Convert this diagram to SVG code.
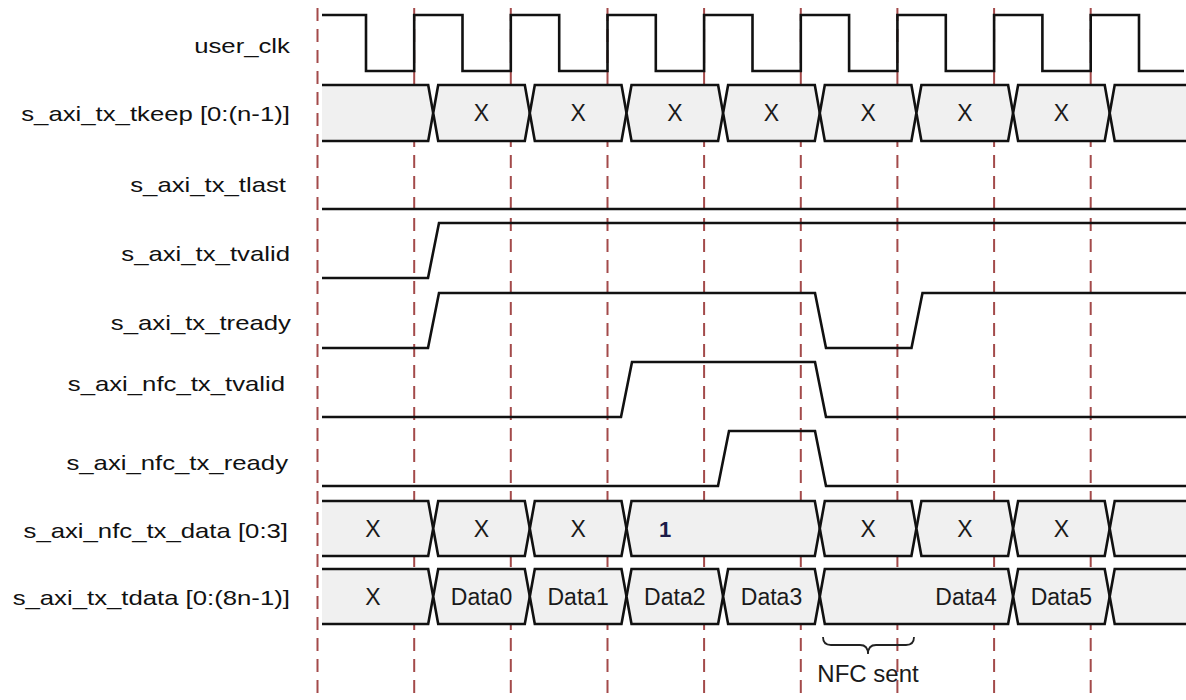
<svg xmlns="http://www.w3.org/2000/svg" width="1186" height="700" viewBox="0 0 1186 700">
<style>
.bg{fill:#ffffff}
.grid line{stroke:#a34a4a;stroke-width:2;stroke-dasharray:13 8}
.sig{fill:none;stroke:#111;stroke-width:2.6;stroke-linejoin:miter}
.busfill{fill:#f0f0f0;stroke:none}
.bus{fill:#f0f0f0;stroke:#111;stroke-width:2.6;stroke-linejoin:miter}
.busline{fill:none;stroke:#111;stroke-width:2.6;stroke-linejoin:miter}
.lbl{font-family:"Liberation Sans",Arial,sans-serif;font-size:21px;fill:#111;text-anchor:end}
.val{font-family:"Liberation Sans",Arial,sans-serif;font-size:23px;fill:#1a1a1a;text-anchor:middle}
.brace{fill:none;stroke:#222;stroke-width:1.8}
</style>
<rect class="bg" x="0" y="0" width="1186" height="700"/>

<g id="gridlines" class="grid">
<line x1="317.5" y1="8" x2="317.5" y2="700"/>
<line x1="414.2" y1="8" x2="414.2" y2="700"/>
<line x1="510.8" y1="8" x2="510.8" y2="700"/>
<line x1="607.5" y1="8" x2="607.5" y2="700"/>
<line x1="704.1" y1="8" x2="704.1" y2="700"/>
<line x1="800.8" y1="8" x2="800.8" y2="700"/>
<line x1="897.4" y1="8" x2="897.4" y2="700"/>
<line x1="994.1" y1="8" x2="994.1" y2="700"/>
<line x1="1090.7" y1="8" x2="1090.7" y2="700"/>
</g>

<g id="labels" transform="scale(1.225,1)">
<text class="lbl" x="236.7" y="53">user_clk</text>
<text class="lbl" x="236.7" y="121">s_axi_tx_tkeep [0:(n-1)]</text>
<text class="lbl" x="233.5" y="192">s_axi_tx_tlast</text>
<text class="lbl" x="236.7" y="261">s_axi_tx_tvalid</text>
<text class="lbl" x="237.5" y="330">s_axi_tx_tready</text>
<text class="lbl" x="232.7" y="391">s_axi_nfc_tx_tvalid</text>
<text class="lbl" x="235.1" y="470">s_axi_nfc_tx_ready</text>
<text class="lbl" x="235.1" y="538">s_axi_nfc_tx_data [0:3]</text>
<text class="lbl" x="236.7" y="605">s_axi_tx_tdata [0:(8n-1)]</text>
</g>

<g id="user_clk">
<path class="sig" d="M322,15 H366 V71 H414.2 V15 H462.5 V71 H510.8 V15 H559.2 V71 H607.5 V15 H655.8 V71 H704.1 V15 H752.5 V71 H800.8 V15 H849.1 V71 H897.4 V15 H945.8 V71 H994.1 V15 H1042.4 V71 H1090.7 V15 H1139 V71 H1184"/>
</g>

<g id="s_axi_tx_tkeep">
<polygon class="busfill" points="322,85 428.2,85 433.2,113 428.2,141 322,141"/>
<polyline class="busline" points="322,85 428.2,85 433.2,113 428.2,141 322,141"/>
<polygon class="bus" points="433.2,113 438.2,85 524.8,85 529.8,113 524.8,141 438.2,141"/>
<polygon class="bus" points="529.8,113 534.8,85 621.5,85 626.5,113 621.5,141 534.8,141"/>
<polygon class="bus" points="626.5,113 631.5,85 718.1,85 723.1,113 718.1,141 631.5,141"/>
<polygon class="bus" points="723.1,113 728.1,85 814.8,85 819.8,113 814.8,141 728.1,141"/>
<polygon class="bus" points="819.8,113 824.8,85 911.4,85 916.4,113 911.4,141 824.8,141"/>
<polygon class="bus" points="916.4,113 921.4,85 1008.1,85 1013.1,113 1008.1,141 921.4,141"/>
<polygon class="bus" points="1013.1,113 1018.1,85 1104.7,85 1109.7,113 1104.7,141 1018.1,141"/>
<polygon class="busfill" points="1186,85 1114.7,85 1109.7,113 1114.7,141 1186,141"/>
<polyline class="busline" points="1186,85 1114.7,85 1109.7,113 1114.7,141 1186,141"/>
<text class="val" x="481.5" y="121">X</text>
<text class="val" x="578.2" y="121">X</text>
<text class="val" x="674.8" y="121">X</text>
<text class="val" x="771.5" y="121">X</text>
<text class="val" x="868.1" y="121">X</text>
<text class="val" x="964.8" y="121">X</text>
<text class="val" x="1061.4" y="121">X</text>
</g>

<g id="s_axi_tx_tlast">
<path class="sig" d="M322,209 H1186"/>
</g>

<g id="s_axi_tx_tvalid">
<path class="sig" d="M322,278 H428 L439,223 H1186"/>
</g>

<g id="s_axi_tx_tready">
<path class="sig" d="M322,348 H428 L439,293 H815 L826,348 H911.5 L922.5,293 H1186"/>
</g>

<g id="s_axi_nfc_tx_tvalid">
<path class="sig" d="M322,417 H621 L632,362 H815 L826,417 H1186"/>
</g>

<g id="s_axi_nfc_tx_ready">
<path class="sig" d="M322,486 H718 L729,431 H815 L826,486 H1186"/>
</g>

<g id="s_axi_nfc_tx_data">
<polygon class="busfill" points="322,501 428.2,501 433.2,528.5 428.2,556 322,556"/>
<polyline class="busline" points="322,501 428.2,501 433.2,528.5 428.2,556 322,556"/>
<polygon class="bus" points="433.2,528.5 438.2,501 524.8,501 529.8,528.5 524.8,556 438.2,556"/>
<polygon class="bus" points="529.8,528.5 534.8,501 621.5,501 626.5,528.5 621.5,556 534.8,556"/>
<polygon class="bus" points="626.5,528.5 631.5,501 814.8,501 819.8,528.5 814.8,556 631.5,556"/>
<polygon class="bus" points="819.8,528.5 824.8,501 911.4,501 916.4,528.5 911.4,556 824.8,556"/>
<polygon class="bus" points="916.4,528.5 921.4,501 1008.1,501 1013.1,528.5 1008.1,556 921.4,556"/>
<polygon class="bus" points="1013.1,528.5 1018.1,501 1104.7,501 1109.7,528.5 1104.7,556 1018.1,556"/>
<polygon class="busfill" points="1186,501 1114.7,501 1109.7,528.5 1114.7,556 1186,556"/>
<polyline class="busline" points="1186,501 1114.7,501 1109.7,528.5 1114.7,556 1186,556"/>
<text class="val" x="373" y="536.5">X</text>
<text class="val" x="481.5" y="536.5">X</text>
<text class="val" x="578.2" y="536.5">X</text>
<text class="val" x="665" y="536.5" style="font-size:22px;font-weight:bold;fill:#1c1c48">1</text>
<text class="val" x="868.1" y="536.5">X</text>
<text class="val" x="964.8" y="536.5">X</text>
<text class="val" x="1061.4" y="536.5">X</text>
</g>

<g id="s_axi_tx_tdata">
<polygon class="busfill" points="322,569 428.2,569 433.2,596.5 428.2,624 322,624"/>
<polyline class="busline" points="322,569 428.2,569 433.2,596.5 428.2,624 322,624"/>
<polygon class="bus" points="433.2,596.5 438.2,569 524.8,569 529.8,596.5 524.8,624 438.2,624"/>
<polygon class="bus" points="529.8,596.5 534.8,569 621.5,569 626.5,596.5 621.5,624 534.8,624"/>
<polygon class="bus" points="626.5,596.5 631.5,569 718.1,569 723.1,596.5 718.1,624 631.5,624"/>
<polygon class="bus" points="723.1,596.5 728.1,569 814.8,569 819.8,596.5 814.8,624 728.1,624"/>
<polygon class="bus" points="819.8,596.5 824.8,569 1008.1,569 1013.1,596.5 1008.1,624 824.8,624"/>
<polygon class="bus" points="1013.1,596.5 1018.1,569 1104.7,569 1109.7,596.5 1104.7,624 1018.1,624"/>
<polygon class="busfill" points="1186,569 1114.7,569 1109.7,596.5 1114.7,624 1186,624"/>
<polyline class="busline" points="1186,569 1114.7,569 1109.7,596.5 1114.7,624 1186,624"/>
<text class="val" x="373" y="604.5">X</text>
<text class="val" x="481.5" y="604.5">Data0</text>
<text class="val" x="578.2" y="604.5">Data1</text>
<text class="val" x="674.8" y="604.5">Data2</text>
<text class="val" x="771.5" y="604.5">Data3</text>
<text class="val" x="966" y="604.5">Data4</text>
<text class="val" x="1061.4" y="604.5">Data5</text>
</g>

<g id="nfc_sent">
<path class="brace" d="M823,637 Q823,645 831,645 L860,645 Q868,645 868,654 Q868,645 876,645 L906,645 Q914,645 914,637"/>
<text class="val" x="868" y="682" style="font-size:24px">NFC sent</text>
</g>
</svg>
